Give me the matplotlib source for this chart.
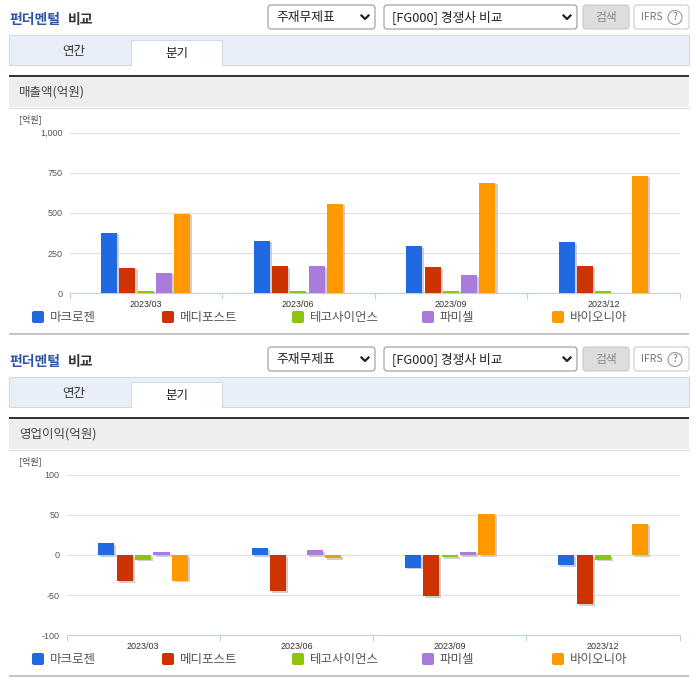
import matplotlib
matplotlib.use("Agg")
import matplotlib.pyplot as plt
import matplotlib.patheffects as pe
import numpy as np
from matplotlib.patches import Circle, FancyBboxPatch, Rectangle

plt.rcParams["font.family"] = ["Noto Sans CJK KR", "DejaVu Sans"]

W, H = 696, 684

quarters = ["2023/03", "2023/06", "2023/09", "2023/12"]
companies = ["마크로젠", "메디포스트", "테고사이언스", "파미셀", "바이오니아"]
colors = ["#2069e0", "#cc3300", "#8cc410", "#a97bdb", "#ff9900"]

sales_macrogen = [378, 328, 295, 320]
sales_medipost = [160, 170, 164, 170]
sales_tego = [17, 17, 17, 15]
sales_pharmicell = [129, 170, 114, 0]
sales_bioneer = [496, 558, 689, 733]

profit_macrogen = [15, 8, -16, -13]
profit_medipost = [-33, -45, -51, -61]
profit_tego = [-6, 0, -3, -6]
profit_pharmicell = [3.5, 5.5, 4, 0]
profit_bioneer = [-32, -4, 50.5, 39]

sales_ticks = [0, 250, 500, 750, 1000]
sales_ticklabels = ["0", "250", "500", "750", "1,000"]
profit_ticks = [-100, -50, 0, 50, 100]
profit_ticklabels = ["-100", "-50", "0", "50", "100"]


def round_box(bg, x0, y0, x1, y1, face, edge):
    bg.add_patch(FancyBboxPatch((x0, y0), x1 - x0, y1 - y0, boxstyle="round,pad=0,rounding_size=3",
                                fc=face, ec=edge, lw=0.8))


def select_box(bg, x0, x1, y0, label):
    round_box(bg, x0, y0 + 5, x1, y0 + 29, "white", "#999999")
    bg.text(x0 + 8, y0 + 17, label, fontsize=9.2, color="#222222", va="center")
    cx = x1 - 10
    bg.plot([cx - 3.5, cx, cx + 3.5], [y0 + 15.5, y0 + 19, y0 + 15.5], color="#222222", lw=1.6)


def draw_chrome(bg, dy, header):
    bg.text(9, 20 + dy, "펀더멘털", fontsize=10, fontweight="bold", color="#2f55a4", va="center")
    bg.text(68, 20 + dy, "비교", fontsize=10, fontweight="bold", color="#333333", va="center")
    select_box(bg, 268, 375, dy, "주재무제표")
    select_box(bg, 384, 577, dy, "[FG000] 경쟁사 비교")
    round_box(bg, 583, 5 + dy, 629, 29 + dy, "#dddddd", "#c8c8c8")
    bg.text(606, 17 + dy, "검색", fontsize=8.5, color="#8a8a8a", ha="center", va="center")
    round_box(bg, 634, 5 + dy, 689, 29 + dy, "white", "#cccccc")
    bg.text(641, 17 + dy, "IFRS", fontsize=7.5, color="#777777", va="center")
    bg.add_patch(Circle((675, 17.5 + dy), 7, fc="white", ec="#999999", lw=0.8))
    bg.text(675, 17.5 + dy, "?", fontsize=7.5, color="#777777", ha="center", va="center")

    bg.add_patch(Rectangle((9, 35 + dy), 680, 29.5, fc="#e8eff8", ec="#d0d8e2", lw=0.7))
    bg.add_patch(Rectangle((131, 40 + dy), 91, 24.5, fc="white", ec="#d0d8e2", lw=0.7))
    bg.add_patch(Rectangle((131.5, 63 + dy), 90, 2.5, fc="white", ec="none"))
    bg.text(74, 51 + dy, "연간", fontsize=9, color="#333333", ha="center", va="center")
    bg.text(177, 53 + dy, "분기", fontsize=9, color="#222222", ha="center", va="center")

    bg.add_patch(Rectangle((9, 77 + dy), 680, 30, fc="#eeeeee", ec="none"))
    bg.add_patch(Rectangle((9, 75 + dy), 680, 2, fc="#333333", ec="none"))
    bg.plot([9, 689], [107.5 + dy, 107.5 + dy], color="#dddddd", lw=0.8)
    bg.text(19, 92 + dy, header, fontsize=9, color="#444444", va="center")
    bg.text(19, 119 + dy, "[억원]", fontsize=6.5, color="#444444", va="center")

    for name, color, x in zip(companies, colors, [32, 162, 292, 422, 552]):
        bg.add_patch(FancyBboxPatch((x, 311 + dy), 12, 12, boxstyle="round,pad=0,rounding_size=2",
                                    fc=color, ec="none"))
        bg.text(x + 18, 317 + dy, name, fontsize=9, color="#555555", va="center")
    bg.add_patch(Rectangle((9, 333 + dy), 680, 2, fc="#c4c4c4", ec="none"))


def draw_bars(fig, series, left, top, bottom, ylim, ticks, ticklabels):
    ax = fig.add_axes([left / W, 1 - bottom / H, (679.7 - left) / W, (bottom - top) / H])
    ax.patch.set_alpha(0)
    width = 0.105
    step = 0.12
    shadow = [pe.SimplePatchShadow(offset=(1.5, -1.2), shadow_rgbFace="#bbbbbb", alpha=0.7), pe.Normal()]
    xs = np.arange(len(quarters))
    for i, (values, color) in enumerate(zip(series, colors)):
        bars = ax.bar(xs + (i - 2) * step, values, width, color=color, zorder=3)
        for bar, value in zip(bars, values):
            if value != 0:
                bar.set_path_effects(shadow)

    ax.set_xlim(-0.5, len(quarters) - 0.5)
    ax.set_ylim(*ylim)
    ax.set_yticks(ticks)
    ax.set_yticklabels(ticklabels, fontsize=6.5, color="#555555", family="Liberation Sans")
    ax.set_xticks(xs)
    ax.set_xticklabels(quarters, fontsize=6.5, color="#333333", family="Liberation Sans")
    ax.set_xticks(np.arange(len(quarters) + 1) - 0.5, minor=True)
    ax.tick_params(axis="x", which="major", length=0, pad=5)
    ax.tick_params(axis="x", which="minor", length=4, color="#c0d0e0", width=0.8)
    ax.tick_params(axis="y", length=0, pad=5)
    ax.grid(axis="y", color="#e2e2e2", lw=0.9, zorder=0)
    ax.set_axisbelow(True)
    for side in ["top", "left", "right"]:
        ax.spines[side].set_visible(False)
    ax.spines["bottom"].set_color("#c0d0e0")
    ax.spines["bottom"].set_linewidth(0.8)
    return ax


fig = plt.figure(figsize=(W / 100, H / 100), dpi=100, facecolor="white")
bg = fig.add_axes([0, 0, 1, 1])
bg.set_xlim(0, W)
bg.set_ylim(H, 0)
bg.axis("off")

draw_chrome(bg, 0, "매출액(억원)")
draw_chrome(bg, 342, "영업이익(억원)")

sales = [sales_macrogen, sales_medipost, sales_tego, sales_pharmicell, sales_bioneer]
profit = [profit_macrogen, profit_medipost, profit_tego, profit_pharmicell, profit_bioneer]
draw_bars(fig, sales, 69.5, 132.7, 293.3, (0, 1000), sales_ticks, sales_ticklabels)
draw_bars(fig, profit, 66.5, 474.5, 635.3, (-100, 100), profit_ticks, profit_ticklabels)

fig.savefig("out.png", dpi=100)
plt.close(fig)
